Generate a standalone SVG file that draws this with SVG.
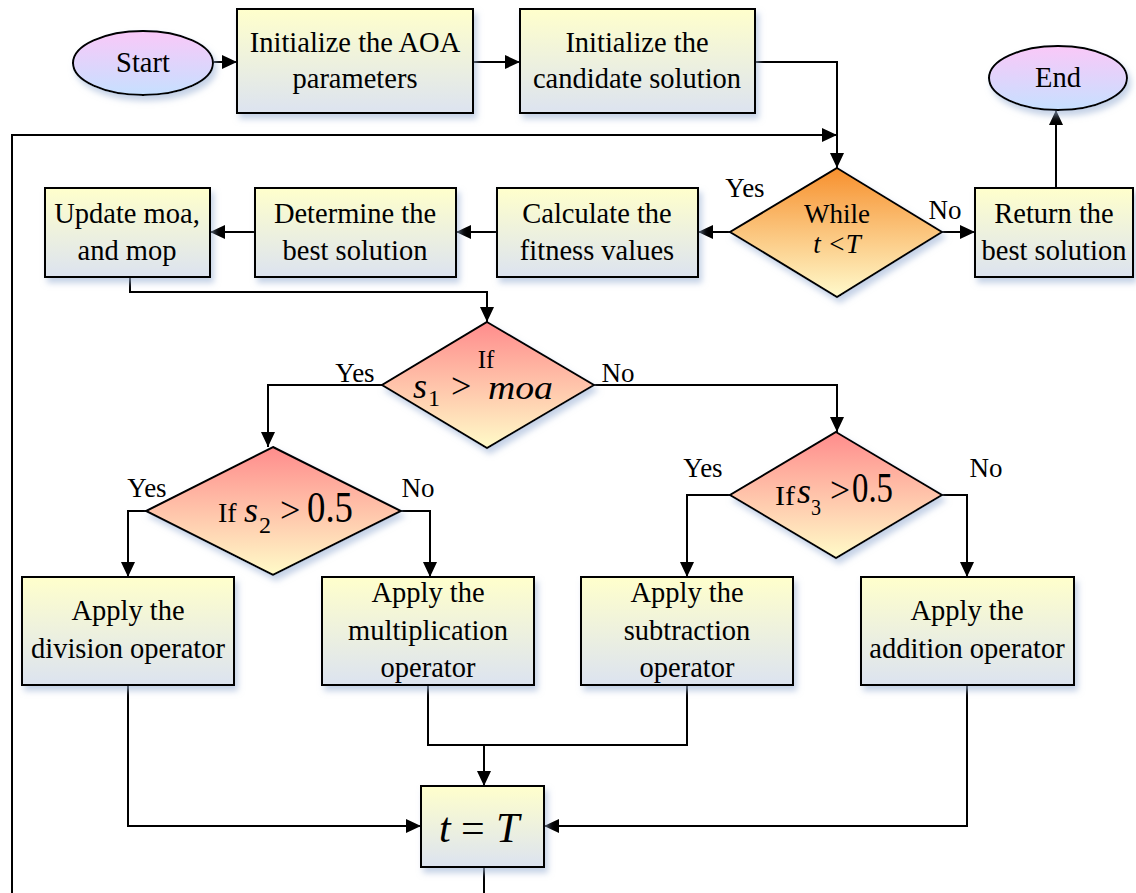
<svg xmlns="http://www.w3.org/2000/svg" width="1136" height="893" viewBox="0 0 1136 893">
<style>
.box{stroke:#000;stroke-width:2;fill:url(#gBox);filter:url(#sh)}
.dia1{stroke:#000;stroke-width:2;fill:url(#gWhile);filter:url(#sh)}
.dia2{stroke:#000;stroke-width:2;fill:url(#gIf);filter:url(#sh)}
.ell{stroke:#000;stroke-width:2;fill:url(#gEll);filter:url(#sh)}
text{font-family:"Liberation Serif","Times New Roman",serif;fill:#000}
.t{font-size:28.5px;text-anchor:middle}
.lbl{font-size:27px;text-anchor:middle}
.it{font-style:italic}
.conn path{fill:none;stroke:#000;stroke-width:2}
</style>
<defs>
<linearGradient id="gBox" x1="0" y1="0" x2="0" y2="1"><stop offset="0" stop-color="#FFFFCC"/><stop offset="1" stop-color="#DCE3F0"/></linearGradient>
<linearGradient id="gWhile" x1="0" y1="0" x2="0" y2="1"><stop offset="0" stop-color="#F7902E"/><stop offset="1" stop-color="#FFFACC"/></linearGradient>
<linearGradient id="gIf" x1="0" y1="0" x2="0" y2="1"><stop offset="0" stop-color="#FF8C8C"/><stop offset="1" stop-color="#FFFBC8"/></linearGradient>
<linearGradient id="gEll" x1="0" y1="0" x2="0" y2="1"><stop offset="0" stop-color="#FAC8F8"/><stop offset="1" stop-color="#C6E0FF"/></linearGradient>
<filter id="sh" x="-10%" y="-10%" width="130%" height="140%"><feDropShadow dx="3" dy="5" stdDeviation="3" flood-color="#9DB3D6" flood-opacity="0.6"/></filter>
<marker id="ar" markerUnits="userSpaceOnUse" markerWidth="16" markerHeight="14" refX="15" refY="7" orient="auto"><path d="M0,0 L15,7 L0,14 z" fill="#000"/></marker>
</defs>

<g class="conn" id="connectors">
<path d="M213,62 H237" marker-end="url(#ar)"/>
<path d="M473,62 H520" marker-end="url(#ar)"/>
<path d="M755,62 H837 V168" marker-end="url(#ar)"/>
<path d="M12,893 V135 H837" marker-end="url(#ar)"/>
<path d="M1056,188 V110" marker-end="url(#ar)"/>
<path d="M942,232 H975" marker-end="url(#ar)"/>
<path d="M730,232 H698" marker-end="url(#ar)"/>
<path d="M497,232 H456" marker-end="url(#ar)"/>
<path d="M255,232 H210" marker-end="url(#ar)"/>
<path d="M130,277 V292 H487 V322" marker-end="url(#ar)"/>
<path d="M382,385 H268 V447" marker-end="url(#ar)"/>
<path d="M594,385 H837 V432" marker-end="url(#ar)"/>
<path d="M146,511 H128 V577" marker-end="url(#ar)"/>
<path d="M401,511 H430 V577" marker-end="url(#ar)"/>
<path d="M730,495 H687 V577" marker-end="url(#ar)"/>
<path d="M942,495 H967 V577" marker-end="url(#ar)"/>
<path d="M128,685 V826 H421" marker-end="url(#ar)"/>
<path d="M428,685 V745 H687 V685"/>
<path d="M484,745 V786" marker-end="url(#ar)"/>
<path d="M967,685 V826 H544" marker-end="url(#ar)"/>
<path d="M484,867 V893"/>
<text class="lbl" x="745" y="197">Yes</text>
<text class="lbl" x="945" y="219">No</text>
<text class="lbl" x="355" y="382">Yes</text>
<text class="lbl" x="618" y="382">No</text>
<text class="lbl" x="147" y="497">Yes</text>
<text class="lbl" x="418" y="497">No</text>
<text class="lbl" x="703" y="477">Yes</text>
<text class="lbl" x="986" y="477">No</text>
</g>

<g id="start"><ellipse class="ell" cx="143" cy="63" rx="70" ry="32"/><text class="t" x="143" y="72">Start</text></g>
<g id="initAOA"><rect class="box" x="237" y="9" width="236" height="104"/><text class="t" x="355" y="52">Initialize the AOA</text><text class="t" x="355" y="88">parameters</text></g>
<g id="initCand"><rect class="box" x="520" y="9" width="235" height="104"/><text class="t" x="637" y="52">Initialize the</text><text class="t" x="637" y="88">candidate solution</text></g>
<g id="end"><ellipse class="ell" cx="1058" cy="78" rx="69" ry="32"/><text class="t" x="1058" y="87">End</text></g>
<g id="while"><polygon class="dia1" points="837,168 942,232 837,297 730,232"/><text class="lbl" x="837" y="223">While</text><text class="lbl it" x="837" y="253">t &lt;T</text></g>
<g id="return"><rect class="box" x="975" y="188" width="158" height="89"/><text class="t" x="1054" y="223">Return the</text><text class="t" x="1054" y="260">best solution</text></g>
<g id="calc"><rect class="box" x="497" y="188" width="201" height="89"/><text class="t" x="597" y="223">Calculate the</text><text class="t" x="597" y="260">fitness values</text></g>
<g id="determine"><rect class="box" x="255" y="188" width="201" height="89"/><text class="t" x="355" y="223">Determine the</text><text class="t" x="355" y="260">best solution</text></g>
<g id="update"><rect class="box" x="45" y="188" width="165" height="89"/><text class="t" x="127" y="223">Update moa,</text><text class="t" x="127" y="260">and mop</text></g>
<g id="if1"><polygon class="dia2" points="487,322 594,385 487,448 382,385"/>
<text x="486" y="368" style="font-size:25px;text-anchor:middle">If</text>
<text x="413" y="398" style="font-size:36px;font-style:italic">s</text><text x="428" y="406" style="font-size:24px">1</text>
<text x="451" y="398" style="font-size:36px">&gt;</text>
<text x="488" y="399" style="font-size:34px;font-style:italic" textLength="65" lengthAdjust="spacingAndGlyphs">moa</text></g>
<g id="if2"><polygon class="dia2" points="273,447 401,511 273,575 146,511"/>
<text x="218" y="522" style="font-size:28px">If</text>
<text x="244" y="522" style="font-size:36px;font-style:italic">s</text><text x="259" y="533" style="font-size:24px">2</text>
<text x="280" y="522" style="font-size:36px">&gt;</text>
<text x="307" y="522" style="font-size:44px" textLength="46" lengthAdjust="spacingAndGlyphs">0.5</text></g>
<g id="if3"><polygon class="dia2" points="836,432 942,495 836,558 730,495"/>
<text x="775" y="505" style="font-size:28px" textLength="20" lengthAdjust="spacingAndGlyphs">If</text>
<text x="797" y="503" style="font-size:36px;font-style:italic" textLength="14" lengthAdjust="spacingAndGlyphs">s</text><text x="811" y="515" style="font-size:24px" textLength="10" lengthAdjust="spacingAndGlyphs">3</text>
<text x="830" y="502" style="font-size:36px" textLength="20" lengthAdjust="spacingAndGlyphs">&gt;</text>
<text x="852" y="502" style="font-size:42px" textLength="41" lengthAdjust="spacingAndGlyphs">0.5</text></g>
<g id="division"><rect class="box" x="22" y="577" width="212" height="108"/><text class="t" x="128" y="620">Apply the</text><text class="t" x="128" y="658">division operator</text></g>
<g id="multiplication"><rect class="box" x="322" y="577" width="212" height="108"/><text class="t" x="428" y="602">Apply the</text><text class="t" x="428" y="640">multiplication</text><text class="t" x="428" y="677">operator</text></g>
<g id="subtraction"><rect class="box" x="581" y="577" width="212" height="108"/><text class="t" x="687" y="602">Apply the</text><text class="t" x="687" y="640">subtraction</text><text class="t" x="687" y="677">operator</text></g>
<g id="addition"><rect class="box" x="861" y="577" width="213" height="108"/><text class="t" x="967" y="620">Apply the</text><text class="t" x="967" y="658">addition operator</text></g>
<g id="tT"><rect class="box" x="421" y="786" width="123" height="81"/>
<text x="439" y="842" style="font-size:42px;font-style:italic">t</text>
<text x="461" y="842" style="font-size:42px">=</text>
<text x="496" y="842" style="font-size:42px;font-style:italic">T</text></g>
</svg>
